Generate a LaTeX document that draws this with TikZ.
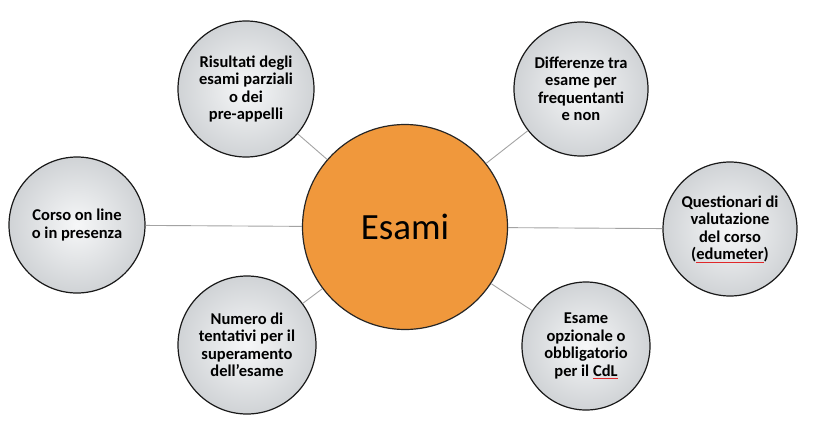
\documentclass[tikz,border=0pt]{standalone}
\usepackage{fontspec}
\setmainfont{Carlito}
\usetikzlibrary{positioning}
\definecolor{esorange}{HTML}{F0983C}
\definecolor{bubin}{HTML}{F6F7F8}
\definecolor{bubout}{HTML}{D0D3D6}
\definecolor{spoke}{HTML}{A3A3A3}
\definecolor{spell}{HTML}{E0282A}
\newcommand{\spellmark}[1]{\setbox0\hbox{#1}\rlap{\color{spell}\rule[-2.5pt]{\wd0}{0.8pt}}#1}

\begin{document}
\begin{tikzpicture}[
  x=1pt, y=-1pt,
  hub/.style={circle, draw=black!85, line width=1.2pt, fill=esorange,
    minimum size=205pt, inner sep=0pt, font=\fontsize{37}{40}\selectfont},
  topic/.style={circle, draw=black!90, line width=1.2pt, shading=radial,
    inner color=bubin, outer color=bubout, minimum size=#1, inner sep=0pt,
    align=center, font=\fontsize{16.5}{17.5}\selectfont\bfseries},
  topic/.default=136pt,
  link/.style={draw=spoke, line width=0.9pt},
]
\useasboundingbox (0,0) rectangle (821,426);

% centre
\node[hub] (esami) at (405,227) {Esami};

% satellites
\node[topic] (risultati) at (246,89) {Risultati degli\\esami parziali\\o dei\\pre-appelli};
\node[topic=134pt] (differenze) at (581,89) {Differenze tra\\esame per\\frequentanti\\e non};
\node[topic] (corso) at (77,225) {Corso on line\\o in presenza};
\node[topic=134pt] (questionari) at (730,229) {Questionari di\\valutazione\\del corso\\(\spellmark{edumeter})};
\node[topic=138pt] (tentativi) at (247,345) {Numero di\\tentativi per il\\superamento\\dell’esame};
\node[topic=128pt] (opzionale) at (586,346) {Esame\\opzionale o\\obbligatorio\\per il \spellmark{CdL}};

% spokes
\foreach \t in {risultati,differenze,corso,questionari,tentativi,opzionale}
  \draw[link] (esami) -- (\t);

\end{tikzpicture}
\end{document}
